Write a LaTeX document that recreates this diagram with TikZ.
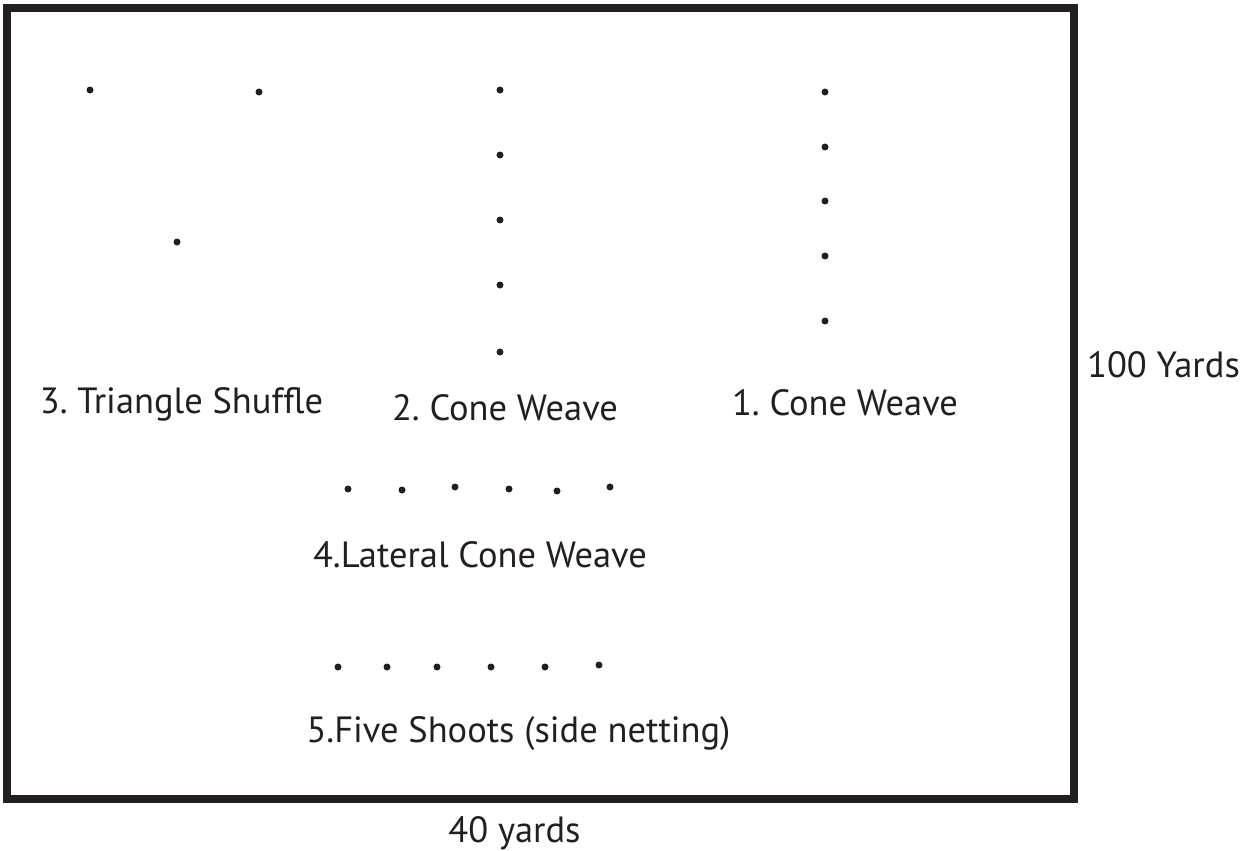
\documentclass[tikz,border=0pt]{standalone}
\usepackage{fontspec}
\setmainfont{PT Sans}
\frenchspacing
\definecolor{ink}{HTML}{231F20}
\begin{document}
\begin{tikzpicture}[x=1pt,y=-1pt,
  cone/.style={circle,fill=ink,inner sep=0pt,minimum size=7pt},
  lbl/.style={anchor=base,inner sep=0pt,text=ink,font=\fontsize{36.5}{40}\selectfont},
  field/.style={draw=ink,line width=8pt}]
\useasboundingbox (0,0) rectangle (1250,851);
\draw[field] (6.5,8) rectangle (1074,799);
% 3. Triangle Shuffle
\node[cone] (t1) at (90,90) {};
\node[cone] (t2) at (259,92) {};
\node[cone] (t3) at (177,242) {};
% 2. Cone Weave
\node[cone] (b1) at (500,90) {};
\node[cone] (b2) at (500,155) {};
\node[cone] (b3) at (500,220) {};
\node[cone] (b4) at (500,285) {};
\node[cone] (b5) at (500,352) {};
% 1. Cone Weave
\node[cone] (a1) at (825,92) {};
\node[cone] (a2) at (825,147) {};
\node[cone] (a3) at (825,201) {};
\node[cone] (a4) at (825,256) {};
\node[cone] (a5) at (825,321) {};
% 4. Lateral
\node[cone] (l1) at (348,489) {};
\node[cone] (l2) at (402,490) {};
\node[cone] (l3) at (455,487) {};
\node[cone] (l4) at (509,489) {};
\node[cone] (l5) at (557,491) {};
\node[cone] (l6) at (610,487) {};
% 5. Five shoots
\node[cone] (f1) at (338,667) {};
\node[cone] (f2) at (387,667) {};
\node[cone] (f3) at (437,667) {};
\node[cone] (f4) at (491,667) {};
\node[cone] (f5) at (545,667) {};
\node[cone] (f6) at (599,665) {};
% labels
\node[lbl] (L3) at (181.5,413) {3. Triangle Shuffle};
\node[lbl] (L2) at (505,420) {2. Cone Weave};
\node[lbl] (L1) at (845,415) {1. Cone Weave};
\node[lbl] (L4) at (480,567) {4.Lateral Cone Weave};
\node[lbl] (L5) at (518.5,742) {5.Five Shoots (side netting)};
\node[lbl] (H) at (1163.5,377) {100 Yards};
\node[lbl] (W) at (514.5,842) {40 yards};
\end{tikzpicture}
\end{document}
